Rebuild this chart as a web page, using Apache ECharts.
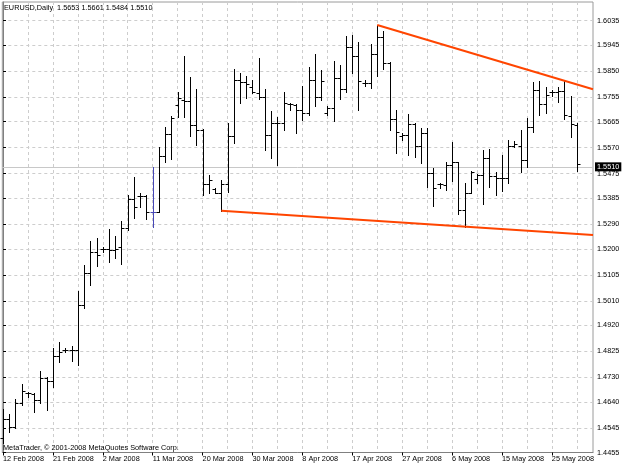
<!DOCTYPE html>
<html><head><meta charset="utf-8">
<script src="https://cdn.jsdelivr.net/npm/echarts@6/dist/echarts.min.js"></script>
<style>html,body{margin:0;padding:0;background:#fff}#c{width:625px;height:469px}</style>
</head><body><div id="c"></div>
<script>
const symbolName = 'EURUSD';
const timeframe = 'Daily';
const dates = ['12 Feb 2008','13 Feb 2008','14 Feb 2008','15 Feb 2008','17 Feb 2008','18 Feb 2008','19 Feb 2008','20 Feb 2008',
'21 Feb 2008','22 Feb 2008','24 Feb 2008','25 Feb 2008','26 Feb 2008','27 Feb 2008','28 Feb 2008','29 Feb 2008',
'2 Mar 2008','3 Mar 2008','4 Mar 2008','5 Mar 2008','6 Mar 2008','7 Mar 2008','9 Mar 2008','10 Mar 2008',
'11 Mar 2008','12 Mar 2008','13 Mar 2008','14 Mar 2008','16 Mar 2008','17 Mar 2008','18 Mar 2008','19 Mar 2008',
'20 Mar 2008','21 Mar 2008','23 Mar 2008','24 Mar 2008','25 Mar 2008','26 Mar 2008','27 Mar 2008','28 Mar 2008',
'30 Mar 2008','31 Mar 2008','1 Apr 2008','2 Apr 2008','3 Apr 2008','4 Apr 2008','6 Apr 2008','7 Apr 2008',
'8 Apr 2008','9 Apr 2008','10 Apr 2008','11 Apr 2008','13 Apr 2008','14 Apr 2008','15 Apr 2008','16 Apr 2008',
'17 Apr 2008','18 Apr 2008','20 Apr 2008','21 Apr 2008','22 Apr 2008','23 Apr 2008','24 Apr 2008','25 Apr 2008',
'27 Apr 2008','28 Apr 2008','29 Apr 2008','30 Apr 2008','1 May 2008','2 May 2008','4 May 2008','5 May 2008',
'6 May 2008','7 May 2008','8 May 2008','9 May 2008','11 May 2008','12 May 2008','13 May 2008','14 May 2008',
'15 May 2008','16 May 2008','18 May 2008','19 May 2008','20 May 2008','21 May 2008','22 May 2008','23 May 2008',
'25 May 2008','26 May 2008','27 May 2008','28 May 2008','29 May 2008'];

const opens = [1.4508,1.4578,1.4549,1.4637,1.4672,1.4668,1.4647,1.4727,
1.4718,1.4808,1.4830,1.4830,1.4830,1.4995,1.5111,1.5190,
1.5199,1.5199,1.5196,1.5206,1.5275,1.5381,1.5394,1.5394,
1.5335,1.5336,1.5540,1.5620,1.5727,1.5745,1.5742,1.5653,
1.5635,1.5436,1.5418,1.5406,1.5436,1.5611,1.5818,1.5812,
1.5791,1.5769,1.5757,1.5617,1.5660,1.5660,1.5730,1.5728,
1.5708,1.5696,1.5818,1.5755,1.5697,1.5714,1.5824,1.5784,
1.5938,1.5907,1.5808,1.5808,1.5913,1.5974,1.5881,1.5675,
1.5613,1.5617,1.5657,1.5577,1.5623,1.5479,1.5436,1.5434,
1.5507,1.5517,1.5342,1.5406,1.5455,1.5470,1.5531,1.5467,
1.5460,1.5458,1.5578,1.5578,1.5525,1.5647,1.5781,1.5730,
1.5775,1.5775,1.5779,1.5686,1.5653];
const highs = [1.4613,1.4595,1.4650,1.4706,1.4676,1.4672,1.4754,1.4730,
1.4836,1.4860,1.4838,1.4845,1.5047,1.5141,1.5229,1.5239,
1.5207,1.5272,1.5247,1.5302,1.5397,1.5464,1.5403,1.5397,
1.5499,1.5574,1.5645,1.5686,1.5772,1.5906,1.5830,1.5784,
1.5637,1.5470,1.5423,1.5452,1.5660,1.5858,1.5844,1.5833,
1.5818,1.5897,1.5785,1.5705,1.5684,1.5775,1.5735,1.5729,
1.5796,1.5867,1.5913,1.5855,1.5723,1.5888,1.5873,1.5980,
1.5984,1.5956,1.5818,1.5949,1.6019,1.5997,1.5885,1.5708,
1.5625,1.5694,1.5660,1.5643,1.5643,1.5495,1.5440,1.5519,
1.5592,1.5519,1.5440,1.5486,1.5473,1.5562,1.5565,1.5482,
1.5544,1.5598,1.5596,1.5635,1.5680,1.5812,1.5814,1.5793,
1.5781,1.5791,1.5818,1.5759,1.5661];
const lows = [1.4489,1.4529,1.4546,1.4628,1.4659,1.4604,1.4635,1.4610,
1.4696,1.4787,1.4824,1.4790,1.4775,1.4983,1.5068,1.5139,
1.5189,1.5153,1.5168,1.5144,1.5269,1.5312,1.5354,1.5309,
1.5279,1.5336,1.5519,1.5528,1.5684,1.5684,1.5611,1.5580,
1.5397,1.5403,1.5403,1.5339,1.5409,1.5589,1.5734,1.5752,
1.5769,1.5748,1.5562,1.5531,1.5507,1.5635,1.5708,1.5623,
1.5672,1.5690,1.5723,1.5745,1.5690,1.5669,1.5748,1.5775,
1.5845,1.5708,1.5796,1.5790,1.5833,1.5857,1.5635,1.5552,
1.5598,1.5544,1.5537,1.5513,1.5428,1.5358,1.5424,1.5416,
1.5450,1.5328,1.5281,1.5403,1.5440,1.5364,1.5428,1.5397,
1.5412,1.5442,1.5574,1.5482,1.5501,1.5629,1.5690,1.5696,
1.5760,1.5739,1.5674,1.5608,1.5484];
const closes = [1.4578,1.4549,1.4637,1.4681,1.4672,1.4647,1.4727,1.4718,
1.4808,1.4824,1.4830,1.4830,1.4995,1.5111,1.5190,1.5178,
1.5199,1.5196,1.5199,1.5275,1.5381,1.5352,1.5394,1.5335,
1.5335,1.5540,1.5620,1.5679,1.5751,1.5742,1.5653,1.5635,
1.5436,1.5452,1.5406,1.5436,1.5611,1.5818,1.5812,1.5803,
1.5773,1.5755,1.5617,1.5660,1.5660,1.5733,1.5730,1.5708,
1.5696,1.5818,1.5755,1.5814,1.5714,1.5824,1.5784,1.5938,
1.5907,1.5814,1.5808,1.5913,1.5974,1.5881,1.5675,1.5629,
1.5617,1.5657,1.5577,1.5623,1.5479,1.5422,1.5436,1.5507,
1.5517,1.5342,1.5406,1.5480,1.5470,1.5531,1.5467,1.5460,
1.5458,1.5577,1.5583,1.5525,1.5647,1.5781,1.5730,1.5763,
1.5775,1.5779,1.5690,1.5657,1.5510];

const yTicks = [1.6035,1.5945,1.5850,1.5755,1.5665,1.5570,1.5475,1.5385,1.5290,1.5200,1.5105,1.5010,1.4920,1.4825,1.4730,1.4640,1.4545,1.4455];
const xLabelIdx = [0,8,16,24,32,40,48,56,64,72,80,88];
const xGridIdx = [0,4,8,12,16,20,24,28,32,36,40,44,48,52,56,60,64,68,72,76,80,84,88,92];
const resistX = [60, 94.6];
const resistY = [1.6019, 1.5784];
const supportX = [35, 94.6];
const supportY = [1.5339, 1.5251];
const lastPrice = 1.5510;
const blueBarIndex = 24;
const copyright = 'MetaTrader, \u00a9 2001-2008 MetaQuotes Software Corp.';

const FONT = 'Liberation Sans';
const FS = 7.3;
const last = dates.length - 1;
const titleText = symbolName + ',' + timeframe + '  ' +
  [opens[last], highs[last], lows[last], closes[last]].map(v => v.toFixed(4)).join(' ');

const ohlc = dates.map((d, i) => [i, opens[i], highs[i], lows[i], closes[i]]);

function renderBar(params, api) {
  const i = api.value(0);
  const pO = api.coord([i, api.value(1)]);
  const pH = api.coord([i, api.value(2)]);
  const pL = api.coord([i, api.value(3)]);
  const pC = api.coord([i, api.value(4)]);
  const x = Math.round(pO[0]) + 0.5;
  const col = i === blueBarIndex ? '#4848b8' : '#000000';
  const ry = v => Math.round(v) + 0.5;
  const st = {stroke: col, lineWidth: 1};
  return {type: 'group', children: [
    {type: 'line', shape: {x1: x, y1: Math.round(pH[1]), x2: x, y2: Math.round(pL[1]) + 1}, style: st},
    {type: 'line', shape: {x1: x - 3, y1: ry(pO[1]), x2: x, y2: ry(pO[1])}, style: st},
    {type: 'line', shape: {x1: x, y1: ry(pC[1]), x2: x + 3, y2: ry(pC[1])}, style: st}
  ]};
}

const chart = echarts.init(document.getElementById('c'), null, {renderer: 'canvas'});
chart.setOption({
  animation: false,
  backgroundColor: '#ffffff',
  grid: {left: 1, right: 32, top: 2, bottom: 16.5, show: true, borderColor: '#9a9a9a', borderWidth: 1},
  xAxis: [{
    type: 'value', min: -0.11, max: 94.6, position: 'bottom',
    axisLine: {show: true, lineStyle: {color: '#808080'}},
    axisTick: {show: true, length: 3, customValues: xLabelIdx, lineStyle: {color: '#000'}},
    axisLabel: {customValues: xLabelIdx, formatter: v => dates[Math.round(v)], align: 'left', margin: 3,
      fontSize: FS, fontFamily: FONT, color: '#000'},
    splitLine: {show: false}
  }, {
    type: 'value', min: -0.11, max: 94.6,
    axisLine: {show: false},
    axisTick: {show: false, customValues: xGridIdx},
    axisLabel: {show: false},
    splitLine: {show: true, lineStyle: {color: '#cdcdcd', type: [3, 3], width: 1}}
  }],
  yAxis: {
    type: 'value', position: 'right', min: 1.4455, max: 1.6103,
    axisLine: {show: true, lineStyle: {color: '#808080'}},
    axisTick: {show: true, length: 3, customValues: yTicks, lineStyle: {color: '#000'}},
    axisLabel: {customValues: yTicks, formatter: v => v.toFixed(4), margin: 4,
      fontSize: FS, fontFamily: FONT, color: '#000'},
    splitLine: {show: true, lineStyle: {color: '#cdcdcd', type: [3, 3], width: 1}}
  },
  graphic: [
    {type: 'text', left: 4, top: 4, z: 100, style: {text: titleText, fontSize: FS, fontFamily: FONT, fill: '#000'}},
    {type: 'text', left: 3, top: 444, z: 100, style: {text: copyright, fontSize: FS, fontFamily: FONT, fill: '#000'}}
  ],
  series: [{
    type: 'custom', name: 'EURUSD', xAxisIndex: 0, yAxisIndex: 0,
    renderItem: renderBar, data: ohlc, encode: {x: 0, y: [1, 2, 3, 4]}, z: 3,
    markLine: {
      silent: true, symbol: 'none', animation: false, z: 1,
      lineStyle: {color: '#c8c8c8', type: 'solid', width: 1},
      label: {position: 'end', formatter: lastPrice.toFixed(4), backgroundColor: '#000', color: '#fff',
        fontSize: FS, fontFamily: FONT, padding: [1, 2, 1, 2], distance: 2},
      data: [{yAxis: lastPrice}]
    }
  }, {
    type: 'line', xAxisIndex: 0, yAxisIndex: 0, symbol: 'none', z: 4,
    data: resistX.map((x, k) => [x, resistY[k]]),
    lineStyle: {color: '#ff4500', width: 2}
  }, {
    type: 'line', xAxisIndex: 0, yAxisIndex: 0, symbol: 'none', z: 4,
    data: supportX.map((x, k) => [x, supportY[k]]),
    lineStyle: {color: '#ff4500', width: 2}
  }]
});
</script></body></html>
